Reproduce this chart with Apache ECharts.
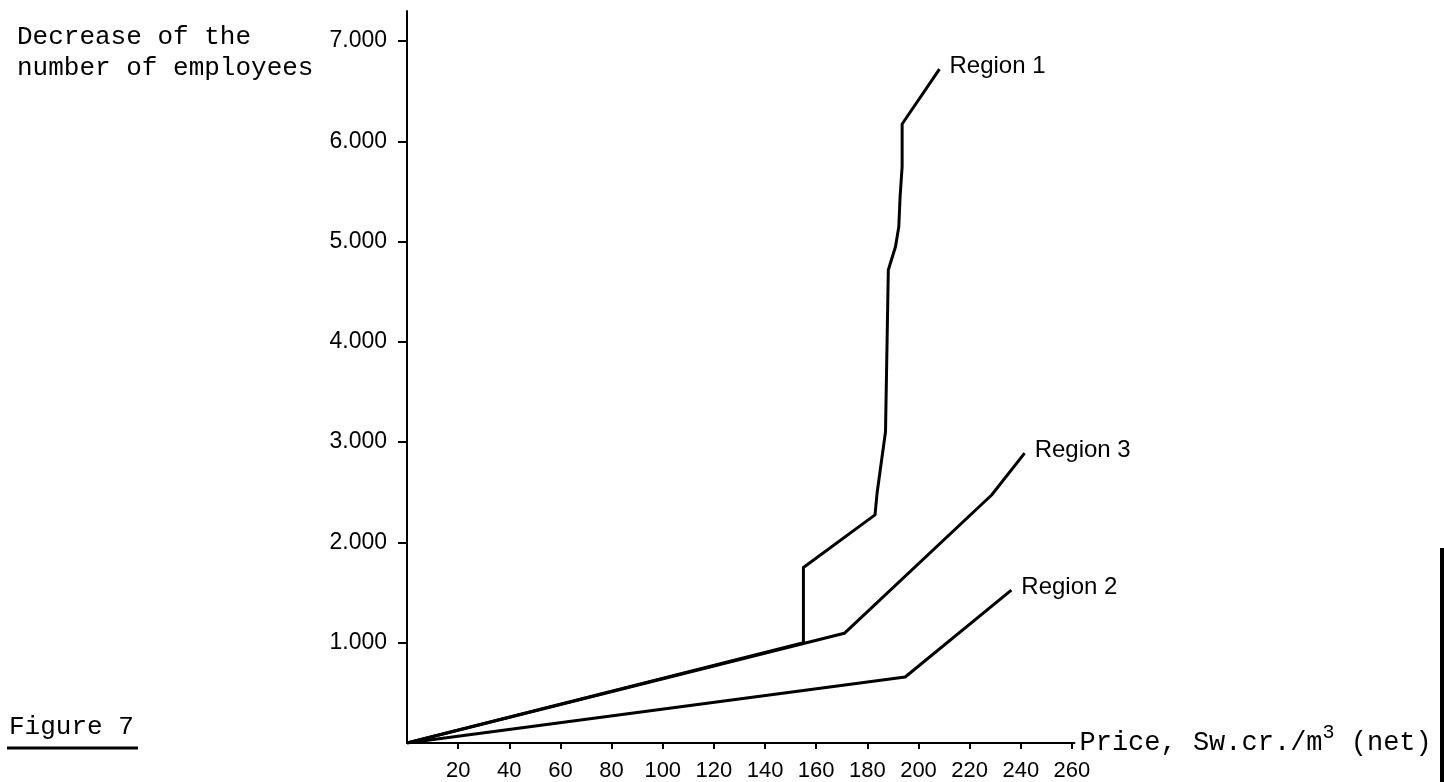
<!DOCTYPE html>
<html>
<head>
<meta charset="utf-8">
<script src="https://cdn.jsdelivr.net/npm/echarts@6/dist/echarts.min.js"></script>
<style>
html,body{margin:0;padding:0;background:#fff;}
#chart{width:1444px;height:782px;}
</style>
</head>
<body>
<div id="chart"></div>
<script>
// ---- data ----
const xTickValues = [20, 40, 60, 80, 100, 120, 140, 160, 180, 200, 220, 240, 260];
const yTickValues = [1000, 2000, 3000, 4000, 5000, 6000, 7000];
const yTickLabels = ['1.000', '2.000', '3.000', '4.000', '5.000', '6.000', '7.000'];
const seriesNames = ['Region 1', 'Region 2', 'Region 3'];
const region1 = [[0, 0], [155, 1000], [155, 1750], [183, 2275], [183.8, 2490], [187.1, 3104], [188.2, 4716], [191.0, 4948], [192.3, 5148], [192.8, 5447], [193.6, 5746], [193.6, 6172], [208.2, 6720]];
const region2 = [[0, 0], [194.8, 658], [236.3, 1525]];
const region3 = [[0, 0], [171, 1094], [228.6, 2473], [241.5, 2891]];
const yTitle = 'Decrease of the\nnumber of employees';
const xTitleMain = 'Price, Sw.cr./m';
const xTitleSup = '3';
const xTitleTail = ' (net)';
const figureLabel = 'Figure 7';

const chart = echarts.init(document.getElementById('chart'), null, {renderer: 'canvas'});
const mono = '"Liberation Mono", "DejaVu Sans Mono", monospace';
const sans = '"Liberation Sans", Arial, sans-serif';

function mkSeries(name, data) {
  return {
    name: name, type: 'line', data: data, showSymbol: false, symbol: 'none',
    lineStyle: {color: '#000', width: 3, join: 'round'},
    endLabel: {
      show: true, formatter: name, distance: 10, offset: [0, -3],
      color: '#000', fontFamily: sans, fontSize: 24
    },
    animation: false, silent: true, z: 3
  };
}

const option = {
  backgroundColor: '#fff',
  animation: false,
  grid: {left: 407, top: 10.9, width: 667.5, height: 732.1, containLabel: false, outerBoundsMode: 'none'},
  xAxis: {
    type: 'value', min: 0, max: 261, interval: 20,
    splitLine: {show: false},
    axisLine: {show: true, lineStyle: {color: '#000', width: 2}},
    axisTick: {show: true, length: 6, lineStyle: {color: '#000', width: 2}, customValues: xTickValues},
    axisLabel: {color: '#000', fontFamily: sans, fontSize: 22, margin: 17, customValues: xTickValues},
    name: '{a|' + xTitleMain + '}{s|' + xTitleSup + '}{a|' + xTitleTail + '}',
    nameLocation: 'end', nameGap: 5, nameMoveOverlap: false,
    nameTextStyle: {
      verticalAlign: 'middle',
      rich: {
        a: {fontFamily: mono, fontSize: 27, color: '#000', lineHeight: 40},
        s: {fontFamily: mono, fontSize: 20, color: '#000', verticalAlign: 'top', lineHeight: 40, padding: [0, 0, 24, 0]}
      }
    }
  },
  yAxis: {
    type: 'value', min: 0, max: 7300, interval: 1000,
    splitLine: {show: false},
    axisLine: {show: true, lineStyle: {color: '#000', width: 2}},
    axisTick: {show: true, length: 9, lineStyle: {color: '#000', width: 2}, customValues: yTickValues},
    axisLabel: {
      color: '#000', fontFamily: sans, fontSize: 23, margin: 20, customValues: yTickValues,
      formatter: v => { const i = yTickValues.indexOf(v); return i >= 0 ? yTickLabels[i] : ''; }
    }
  },
  series: [mkSeries(seriesNames[0], region1), mkSeries(seriesNames[1], region2), mkSeries(seriesNames[2], region3)],
  graphic: [
    {type: 'text', left: 17, top: 22, style: {text: yTitle, fontFamily: mono, fontSize: 26, lineHeight: 31, fill: '#000'}},
    {type: 'text', left: 9, top: 714, style: {text: figureLabel, fontFamily: mono, fontSize: 26, fill: '#000'}},
    {type: 'line', shape: {x1: 7, y1: 748, x2: 138, y2: 748}, style: {stroke: '#000', lineWidth: 3}},
    {type: 'rect', shape: {x: 1440, y: 548, width: 4, height: 234}, style: {fill: '#000'}}
  ]
};
chart.setOption(option);
</script>
</body>
</html>
